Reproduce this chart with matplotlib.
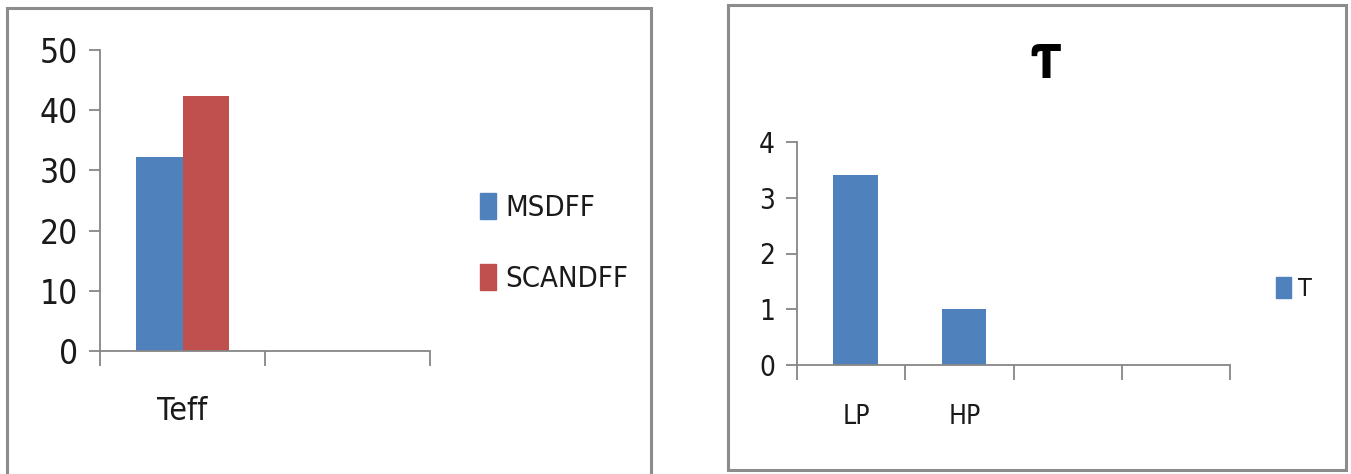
import matplotlib
matplotlib.use("Agg")
import matplotlib.pyplot as plt
from matplotlib.patches import Rectangle, Patch
from matplotlib import font_manager

# --- data ---
left_categories = ["Teff", ""]
msdff_values = [32.3, 0]
scandff_values = [42.3, 0]

right_categories = ["LP", "HP", "", ""]
tau_values = [3.4, 1.0]

BLUE = "#4F81BD"
RED = "#C0504D"
AXIS_GRAY = "#868686"
BORDER_GRAY = "#8c8c8c"

# look for a narrow face (Calibri-like proportions)
narrow = None
for f in font_manager.fontManager.ttflist:
    if f.name in ("Liberation Sans Narrow", "DejaVu Sans") and \
            str(f.stretch) in ("condensed", "semi-condensed", "575", "500") and f.weight in (400, "normal"):
        if f.name == "Liberation Sans Narrow" or "Condensed" in f.fname:
            narrow = f.fname
            break

if narrow:
    font_manager.fontManager.addfont(narrow)
    fam = font_manager.FontProperties(fname=narrow).get_name()
    plt.rcParams["font.family"] = [fam, "DejaVu Sans"]
    plt.rcParams["font.stretch"] = "condensed"
else:
    plt.rcParams["font.family"] = ["Lato", "DejaVu Sans"]

W, H = 1351, 474
fig = plt.figure(figsize=(W / 100, H / 100), dpi=100)
fig.patch.set_facecolor("white")


def px(x0, y0, x1, y1):
    # pixel box (top-left origin) -> figure fraction rect
    return [x0 / W, 1 - y1 / H, (x1 - x0) / W, (y1 - y0) / H]


def style_axes(ax):
    for s in ["top", "right"]:
        ax.spines[s].set_visible(False)
    for s in ["left", "bottom"]:
        ax.spines[s].set_color(AXIS_GRAY)
        ax.spines[s].set_linewidth(1.3)
    ax.tick_params(axis="y", direction="out", length=8, width=1.3, color=AXIS_GRAY, pad=8,
                   labelcolor="#1a1a1a")
    ax.tick_params(axis="x", direction="out", length=11, width=1.3, color=AXIS_GRAY, labelbottom=False)
    ax.set_facecolor("none")


# panel borders
fig.patches.append(Rectangle((7 / W, 1 - 480 / H), (651 - 7) / W, (480 - 8) / H,
                             transform=fig.transFigure, fill=False,
                             edgecolor=BORDER_GRAY, linewidth=2.2))
fig.patches.append(Rectangle((728 / W, 1 - 470 / H), (1346 - 728) / W, (470 - 5) / H,
                             transform=fig.transFigure, fill=False,
                             edgecolor=BORDER_GRAY, linewidth=2.2))

# --- left chart ---
ax1 = fig.add_axes(px(100, 50, 430, 351))
bw = 0.28
xs = [i + 0.5 for i in range(len(left_categories))]
ax1.bar([xs[0] - bw / 2], msdff_values[:1], width=bw, color=BLUE)
ax1.bar([xs[0] + bw / 2], scandff_values[:1], width=bw, color=RED)
ax1.set_xlim(0, len(left_categories))
ax1.set_ylim(0, 50)
ax1.set_yticks(range(0, 51, 10))
ax1.set_xticks(range(0, len(left_categories) + 1))
style_axes(ax1)
ax1.tick_params(axis="y", labelsize=24)
for x, lab in zip(xs, left_categories):
    ax1.text(x, -0.2, lab, transform=ax1.get_xaxis_transform(), ha="center", va="center",
             fontsize=23, color="#1a1a1a")

fig.legend(handles=[Patch(color=BLUE, label="MSDFF"), Patch(color=RED, label="SCANDFF")],
           loc="center left", bbox_to_anchor=(454 / W, 1 - 243 / H), frameon=False,
           fontsize=21, handlelength=0.55, handleheight=1.0, handletextpad=0.3,
           labelspacing=1.45, labelcolor="#1a1a1a")

# --- right chart ---
ax2 = fig.add_axes(px(797, 142, 1230, 365))
xs2 = [i + 0.54 for i in range(len(tau_values))]
ax2.bar(xs2, tau_values, width=0.41, color=BLUE)
ax2.set_xlim(0, len(right_categories))
ax2.set_ylim(0, 4)
ax2.set_yticks(range(0, 5))
ax2.set_xticks(range(0, len(right_categories) + 1))
style_axes(ax2)
ax2.tick_params(axis="y", labelsize=20)
for i, lab in enumerate(right_categories):
    ax2.text(i + 0.55, -0.235, lab, transform=ax2.get_xaxis_transform(), ha="center",
             va="center", fontsize=19, color="#1a1a1a")

fig.text(1045 / W, 1 - 66 / H, "\u01AC", ha="center", va="center", fontsize=34,
         fontweight="bold", family=["DejaVu Sans"])

fig.legend(handles=[Patch(color=BLUE, label="T")],
           loc="center left", bbox_to_anchor=(1253 / W, 1 - 289 / H), frameon=False,
           fontsize=18, handlelength=0.6, handleheight=0.9, handletextpad=0.3,
           labelcolor="#1a1a1a")

fig.savefig("out.png", dpi=100, facecolor="white")
